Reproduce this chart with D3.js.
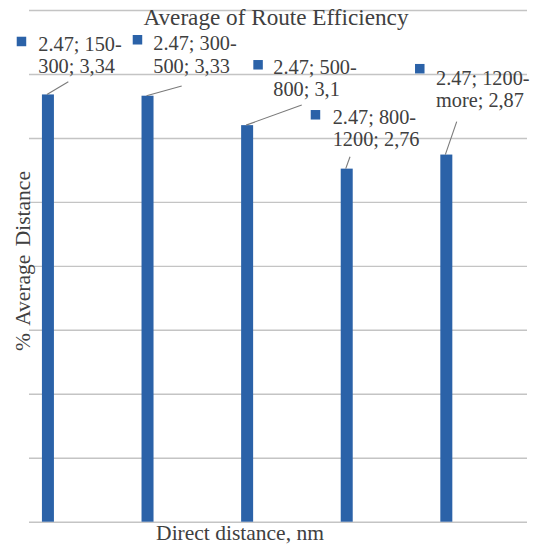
<!DOCTYPE html>
<html>
<head>
<meta charset="utf-8">
<script src="https://cdn.jsdelivr.net/npm/d3@7"></script>
<style>
  html, body { margin: 0; padding: 0; background: #fff; }
  svg { display: block; }
</style>
</head>
<body>
<svg id="chart" width="540" height="544"></svg>
<script>
// Series and category data
const seriesName = "2.47";
const categories = ["150-300", "300-500", "500-800", "800-1200", "1200-more"];
const values = [3.34, 3.33, 3.1, 2.76, 2.87];
const gridValues = [0, 0.5, 1, 1.5, 2, 2.5, 3, 3.5, 4];

const chartTitle = "Average of Route Efficiency";
const xTitle = "Direct distance, nm";
const yTitle = "% Average Distance";

// Manually placed data-label boxes, as offsets from each bar's top centre:
// text anchor (dx, dy), legend key relative to text (kx, ky), leader-line end (lx, ly)
const labelOffsets = [
  { dx: -9.6,  dy: -43.9, kx: -21.6, ky: -13.8, lx: 20.4, ly: -12.7 },
  { dx: 5.8,   dy: -45.7, kx: -20.6, ky: -15,   lx: 34.2, ly: -9.7 },
  { dx: 26.2,  dy: -51.6, kx: -20,   ky: -13.5, lx: 54.6, ly: -20.1 },
  { dx: -14,   dy: -45.1, kx: -22,   ky: -13.5, lx: 3.3,  ly: -11.9 },
  { dx: -10.3, dy: -69.6, kx: -21,   ky: -21,   lx: 10.4, ly: -32.9 }
];

const FONT = "'Liberation Serif', 'Times New Roman', Times, serif";
const TEXT_COLOR = "#404040";
const LABEL_SIZE = 20.3;
const LABEL_LINE = 22.5;
const plot = { left: 29, right: 527, top: 10, bottom: 521.7 };
const barColor = "#2b62a8";
const gridColor = "#c4c4c4";

const svg = d3.select("#chart");

const x = d3.scaleBand().domain(categories).range([plot.left, plot.right]);
const y = d3.scaleLinear().domain([0, 4]).range([plot.bottom, plot.top]);

// bar sits in the first slot of its category cluster
const barWidth = 12;
const barCenter = c => x(c) + x.bandwidth() * 0.19;

// horizontal gridlines
const grid = svg.append("g")
  .attr("transform", `translate(${plot.left},0)`)
  .call(d3.axisLeft(y).tickValues(gridValues).tickSize(-(plot.right - plot.left)).tickFormat(""));
grid.select(".domain").remove();
grid.selectAll(".tick line").attr("stroke", gridColor).attr("stroke-width", 1.4);

// bars
svg.append("g").selectAll("rect")
  .data(categories)
  .join("rect")
  .attr("x", (c) => barCenter(c) - barWidth / 2)
  .attr("y", (c, i) => y(values[i]))
  .attr("width", barWidth)
  .attr("height", (c, i) => y(0) - y(values[i]))
  .attr("fill", barColor);

function addText(sel) {
  return sel.append("text")
    .attr("font-family", FONT)
    .attr("fill", TEXT_COLOR);
}

// chart title
addText(svg)
  .attr("x", 276).attr("y", 25)
  .attr("text-anchor", "middle")
  .attr("font-size", 23.2)
  .text(chartTitle);

// axis titles
addText(svg)
  .attr("x", 240).attr("y", 540)
  .attr("text-anchor", "middle")
  .attr("font-size", 21.5)
  .text(xTitle);

addText(svg)
  .attr("transform", "translate(30,261) rotate(-90)")
  .attr("text-anchor", "middle")
  .attr("font-size", 21.5)
  .attr("word-spacing", 3)
  .text(yTitle);

// data labels with leader lines and legend keys
const labels = svg.append("g");
categories.forEach((c, i) => {
  const o = labelOffsets[i];
  const cx = barCenter(c);
  const top = y(values[i]);
  const tx = cx + o.dx, ty = top + o.dy;
  const parts = c.split("-");
  const lines = [
    `${seriesName}; ${parts[0]}-`,
    `${parts.slice(1).join("-")}; ${String(values[i]).replace(".", ",")}`
  ];

  labels.append("line")
    .attr("x1", cx - 1).attr("y1", top)
    .attr("x2", cx + o.lx).attr("y2", top + o.ly)
    .attr("stroke", "#7a7a7a").attr("stroke-width", 1.1);

  labels.append("rect")
    .attr("x", tx + o.kx).attr("y", ty + o.ky)
    .attr("width", 9.5).attr("height", 9.5)
    .attr("fill", barColor);

  lines.forEach((ln, k) => {
    addText(labels)
      .attr("x", tx).attr("y", ty + k * LABEL_LINE)
      .attr("font-size", LABEL_SIZE)
      .text(ln);
  });
});
</script>
</body>
</html>
